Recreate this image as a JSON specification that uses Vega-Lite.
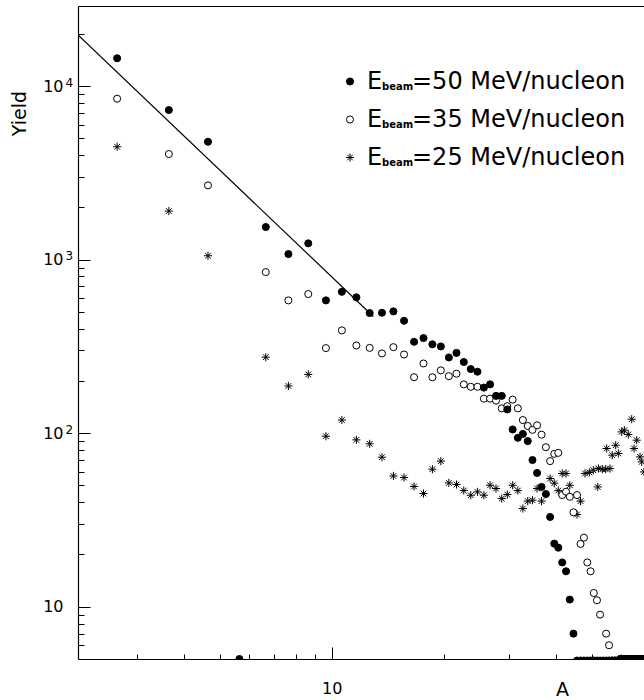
{
  "$schema": "https://vega.github.io/schema/vega-lite/v6.json",
  "width": 566,
  "height": 653,
  "autosize": {"type": "none"},
  "padding": {"left": 78, "top": 6, "right": 0, "bottom": 41},
  "background": "white",
  "config": {
    "view": {"stroke": null},
    "font": "DejaVu Sans",
    "axis": {"grid": false, "domainColor": "black", "tickColor": "black", "labelColor": "black", "titleColor": "black", "labelFont": "DejaVu Sans", "titleFont": "DejaVu Sans", "titleFontWeight": "normal", "domainWidth": 1.2, "tickWidth": 1},
    "legend": {"labelFont": "DejaVu Sans", "labelColor": "black", "padding": 0, "labelLimit": 600}
  },
  "datasets": {
    "pts": [
      {"s":"25","A":2.65,"Y":4468},{"s":"25","A":3.65,"Y":1903},{"s":"25","A":4.65,"Y":1052},{"s":"25","A":6.65,"Y":274},{"s":"25","A":7.65,"Y":187},{"s":"25","A":8.65,"Y":218},{"s":"25","A":9.65,"Y":96},{"s":"25","A":10.65,"Y":119},{"s":"25","A":11.65,"Y":91.5},{"s":"25","A":12.65,"Y":86.8},{"s":"25","A":13.65,"Y":72.7},{"s":"25","A":14.65,"Y":56.7},{"s":"25","A":15.65,"Y":55.5},{"s":"25","A":16.65,"Y":49.3},{"s":"25","A":17.65,"Y":44.9},{"s":"25","A":18.65,"Y":62},{"s":"25","A":19.65,"Y":69},{"s":"25","A":20.65,"Y":51.7},{"s":"25","A":21.65,"Y":50.6},{"s":"25","A":22.65,"Y":46.7},{"s":"25","A":23.65,"Y":43.9},{"s":"25","A":24.65,"Y":45.9},{"s":"25","A":25.65,"Y":43.9},{"s":"25","A":26.65,"Y":50.1},{"s":"25","A":27.65,"Y":48},{"s":"25","A":28.65,"Y":42},{"s":"25","A":29.65,"Y":44.3},{"s":"25","A":30.65,"Y":50.1},{"s":"25","A":31.65,"Y":46.7},{"s":"25","A":32.65,"Y":36.8},{"s":"25","A":33.65,"Y":40.6},{"s":"25","A":34.65,"Y":41.1},{"s":"25","A":35.65,"Y":48},{"s":"25","A":36.65,"Y":40.6},{"s":"25","A":38.65,"Y":54.8},{"s":"25","A":39.65,"Y":51.5},{"s":"25","A":40.65,"Y":46.7},{"s":"25","A":41.65,"Y":58.6},{"s":"25","A":42.65,"Y":58.6},{"s":"25","A":43.65,"Y":50.1},{"s":"25","A":45.65,"Y":34},{"s":"25","A":46.65,"Y":40.6},{"s":"25","A":47.96,"Y":58.6},{"s":"25","A":49.27,"Y":59.4},{"s":"25","A":50.5,"Y":61.2},{"s":"25","A":51.9,"Y":49},{"s":"25","A":52.1,"Y":62.6},{"s":"25","A":53.4,"Y":62},{"s":"25","A":54.5,"Y":62},{"s":"25","A":55.98,"Y":62.6},{"s":"25","A":54.86,"Y":81.6},{"s":"25","A":56.78,"Y":74.7},{"s":"25","A":58.0,"Y":85.2},{"s":"25","A":58.94,"Y":76.4},{"s":"25","A":60.2,"Y":101.7},{"s":"25","A":61.18,"Y":104.1},{"s":"25","A":62.7,"Y":98.3},{"s":"25","A":64.04,"Y":120.4},{"s":"25","A":64.95,"Y":81.6},{"s":"25","A":66.05,"Y":91.1},{"s":"25","A":67.42,"Y":73},{"s":"25","A":68.13,"Y":68.3},{"s":"25","A":69.1,"Y":59.8},
      {"s":"35","A":2.65,"Y":8450},{"s":"35","A":3.65,"Y":4056},{"s":"35","A":4.65,"Y":2677},{"s":"35","A":6.65,"Y":847},{"s":"35","A":7.65,"Y":582},{"s":"35","A":8.65,"Y":633},{"s":"35","A":9.65,"Y":309},{"s":"35","A":10.65,"Y":391},{"s":"35","A":11.65,"Y":320},{"s":"35","A":12.65,"Y":310},{"s":"35","A":13.65,"Y":288},{"s":"35","A":14.65,"Y":313},{"s":"35","A":15.65,"Y":284},{"s":"35","A":16.65,"Y":210},{"s":"35","A":17.65,"Y":252},{"s":"35","A":18.65,"Y":210},{"s":"35","A":19.65,"Y":230},{"s":"35","A":20.65,"Y":213},{"s":"35","A":21.65,"Y":220},{"s":"35","A":22.65,"Y":191},{"s":"35","A":23.65,"Y":185},{"s":"35","A":24.65,"Y":185},{"s":"35","A":25.65,"Y":158},{"s":"35","A":26.65,"Y":158},{"s":"35","A":27.65,"Y":154},{"s":"35","A":28.65,"Y":139},{"s":"35","A":29.65,"Y":143},{"s":"35","A":30.65,"Y":156},{"s":"35","A":31.65,"Y":139},{"s":"35","A":32.65,"Y":119},{"s":"35","A":33.65,"Y":110},{"s":"35","A":34.65,"Y":104.5},{"s":"35","A":35.65,"Y":111},{"s":"35","A":36.65,"Y":98},{"s":"35","A":37.65,"Y":83},{"s":"35","A":38.65,"Y":69},{"s":"35","A":39.65,"Y":76},{"s":"35","A":40.65,"Y":77},{"s":"35","A":41.65,"Y":44},{"s":"35","A":42.65,"Y":46},{"s":"35","A":43.65,"Y":43},{"s":"35","A":44.65,"Y":35},{"s":"35","A":45.65,"Y":44},{"s":"35","A":46.65,"Y":23},{"s":"35","A":47.65,"Y":25},{"s":"35","A":48.65,"Y":18},{"s":"35","A":49.65,"Y":16},{"s":"35","A":50.65,"Y":12},{"s":"35","A":51.65,"Y":10.9},{"s":"35","A":52.65,"Y":9},{"s":"35","A":54.65,"Y":7},{"s":"35","A":55.65,"Y":6},{"s":"35","A":56.65,"Y":4.9},{"s":"35","A":57.65,"Y":4.9},{"s":"35","A":58.65,"Y":4.9},{"s":"35","A":59.65,"Y":5},{"s":"35","A":60.65,"Y":5},{"s":"35","A":61.65,"Y":5},{"s":"35","A":62.65,"Y":5},{"s":"35","A":63.65,"Y":5},{"s":"35","A":64.65,"Y":5},{"s":"35","A":65.65,"Y":5},{"s":"35","A":66.65,"Y":5},{"s":"35","A":67.65,"Y":5},{"s":"35","A":68.65,"Y":5},
      {"s":"50","A":2.65,"Y":14450},{"s":"50","A":3.65,"Y":7270},{"s":"50","A":4.65,"Y":4775},{"s":"50","A":5.65,"Y":5},{"s":"50","A":6.65,"Y":1540},{"s":"50","A":7.65,"Y":1076},{"s":"50","A":8.65,"Y":1240},{"s":"50","A":9.65,"Y":582},{"s":"50","A":10.65,"Y":652},{"s":"50","A":11.65,"Y":606},{"s":"50","A":12.65,"Y":492},{"s":"50","A":13.65,"Y":494},{"s":"50","A":14.65,"Y":503},{"s":"50","A":15.65,"Y":444},{"s":"50","A":16.65,"Y":336},{"s":"50","A":17.65,"Y":353},{"s":"50","A":18.65,"Y":325},{"s":"50","A":19.65,"Y":316},{"s":"50","A":20.65,"Y":273},{"s":"50","A":21.65,"Y":290},{"s":"50","A":22.65,"Y":257},{"s":"50","A":23.65,"Y":234},{"s":"50","A":24.65,"Y":226},{"s":"50","A":25.65,"Y":183},{"s":"50","A":26.65,"Y":191},{"s":"50","A":27.65,"Y":164},{"s":"50","A":28.65,"Y":164},{"s":"50","A":29.65,"Y":137},{"s":"50","A":30.65,"Y":105},{"s":"50","A":31.65,"Y":94},{"s":"50","A":32.65,"Y":99},{"s":"50","A":33.65,"Y":90},{"s":"50","A":34.65,"Y":70},{"s":"50","A":35.65,"Y":59},{"s":"50","A":36.65,"Y":49},{"s":"50","A":37.65,"Y":44.6},{"s":"50","A":38.65,"Y":32.9},{"s":"50","A":39.65,"Y":23.1},{"s":"50","A":40.65,"Y":21.9},{"s":"50","A":41.65,"Y":18},{"s":"50","A":42.65,"Y":16},{"s":"50","A":43.65,"Y":11},{"s":"50","A":44.65,"Y":7},{"s":"50","A":45.65,"Y":4.9},{"s":"50","A":46.65,"Y":4.9},{"s":"50","A":47.65,"Y":4.9},{"s":"50","A":48.65,"Y":4.9},{"s":"50","A":49.65,"Y":4.9},{"s":"50","A":50.65,"Y":4.9},{"s":"50","A":51.65,"Y":4.9},{"s":"50","A":52.65,"Y":4.9},{"s":"50","A":53.65,"Y":4.9},{"s":"50","A":54.65,"Y":4.9},{"s":"50","A":55.65,"Y":4.9},{"s":"50","A":56.65,"Y":4.9},{"s":"50","A":57.65,"Y":4.9},{"s":"50","A":58.65,"Y":4.9},{"s":"50","A":59.65,"Y":5},{"s":"50","A":60.65,"Y":5},{"s":"50","A":61.65,"Y":5},{"s":"50","A":62.65,"Y":5},{"s":"50","A":63.65,"Y":5},{"s":"50","A":64.65,"Y":5},{"s":"50","A":65.65,"Y":5},{"s":"50","A":66.65,"Y":5},{"s":"50","A":67.65,"Y":5},{"s":"50","A":68.65,"Y":5}
    ],
    "fit": [{"A": 2.08, "Y": 19700}, {"A": 12.94, "Y": 470}]
  },
  "data": {"name": "pts"},
  "layer": [
    {
      "mark": {"type": "point", "opacity": 1, "stroke": "black", "strokeWidth": 1, "size": 50, "clip": true},
      "encoding": {
        "x": {"field": "A", "type": "quantitative", "scale": {"type": "log", "domain": [2.08, 69.1], "nice": false},
          "axis": {"orient": "bottom", "values": [10], "labelExpr": "'10'", "tickSize": -12, "labelPadding": 33, "labelFontSize": 16, "labelBaseline": "top", "title": "A", "titleFontSize": 19, "titleX": 484, "titleY": 36, "titleBaseline": "alphabetic", "titleAlign": "center", "titleAnchor": "start"}},
        "y": {"field": "Y", "type": "quantitative", "scale": {"type": "log", "domain": [5, 28900], "nice": false},
          "axis": {"orient": "left", "values": [10, 100, 1000, 10000], "labelExpr": "'10'", "tickSize": -12, "labelPadding": 27, "labelFontSize": 16, "title": "Yield", "titleFontSize": 19, "titleX": -53, "titleY": 107, "titleAngle": -90, "titleBaseline": "alphabetic", "titleAlign": "center", "titleAnchor": "start"}},
        "shape": {"field": "s", "type": "nominal",
          "scale": {"domain": ["50", "35", "25"], "range": ["circle", "circle", "M-1.15,0L1.15,0M0,-1.15L0,1.15M-0.8,-0.8L0.8,0.8M-0.8,0.8L0.8,-0.8"]},
          "legend": {"orient": "none", "legendX": 260, "legendY": 63.5, "title": null, "labelFontSize": 24, "rowPadding": 14, "labelOffset": 5, "symbolSize": 50, "labelExpr": "'E'"}},
        "fill": {"field": "s", "type": "nominal",
          "scale": {"domain": ["50", "35", "25"], "range": ["black", "white", "transparent"]},
          "legend": {"orient": "none", "legendX": 260, "legendY": 63.5, "title": null, "labelFontSize": 24, "rowPadding": 14, "labelOffset": 5, "symbolSize": 50, "labelExpr": "'E'"}},
        "strokeWidth": {"field": "s", "type": "nominal", "scale": {"domain": ["50", "35", "25"], "range": [1, 1, 1.6]}, "legend": null}
      }
    },
    {
      "data": {"name": "fit"},
      "mark": {"type": "line", "color": "black", "strokeWidth": 1.2, "clip": true},
      "encoding": {
        "x": {"field": "A", "type": "quantitative", "scale": {"type": "log", "domain": [2.08, 69.1], "nice": false},
          "axis": {"orient": "bottom", "values": [3, 4, 5, 6, 7, 8, 9, 20, 30, 40, 50, 60], "labels": false, "domain": false, "tickSize": -5, "title": null}},
        "y": {"field": "Y", "type": "quantitative", "scale": {"type": "log", "domain": [5, 28900], "nice": false},
          "axis": {"orient": "left", "values": [6, 7, 8, 9, 20, 30, 40, 50, 60, 70, 80, 90, 200, 300, 400, 500, 600, 700, 800, 900, 2000, 3000, 4000, 5000, 6000, 7000, 8000, 9000, 20000], "labels": false, "domain": false, "tickSize": -6, "title": null}}
      }
    },
    {
      "mark": {"type": "point", "opacity": 0},
      "encoding": {
        "x": {"field": "A", "type": "quantitative", "scale": {"type": "log", "domain": [2.08, 69.1], "nice": false},
          "axis": {"orient": "top", "ticks": false, "labels": false, "domain": true, "title": null}},
        "y": {"field": "Y", "type": "quantitative", "scale": {"type": "log", "domain": [5, 28900], "nice": false},
          "axis": {"orient": "left", "values": [100, 1000, 10000], "labelExpr": "datum.value == 100 ? '2' : datum.value == 1000 ? '3' : '4'", "ticks": false, "tickSize": 0, "domain": false, "labelPadding": 13, "labelAlign": "left", "labelOffset": -4, "labelFontSize": 12, "title": null}},
        "strokeDash": {"field": "s", "type": "nominal",
          "legend": {"orient": "none", "legendX": 294, "legendY": 76, "title": null, "labelFontSize": 10, "labelFontWeight": "bold", "rowPadding": 28, "labelOffset": 0, "symbolSize": 1, "symbolOpacity": 0, "symbolStrokeWidth": 0, "labelExpr": "'beam'"}},
        "size": {"field": "s", "type": "ordinal", "sort": "descending", "scale": {"range": [1, 1]},
          "legend": {"orient": "none", "legendX": 310, "legendY": 63.5, "title": null, "labelFontSize": 24, "rowPadding": 14, "labelOffset": 0, "symbolSize": 1, "symbolOpacity": 0, "symbolStrokeWidth": 0, "labelExpr": "'=' + datum.value + ' MeV/nucleon'"}}
      }
    }
  ],
  "resolve": {"axis": {"x": "independent", "y": "independent"}}
}
